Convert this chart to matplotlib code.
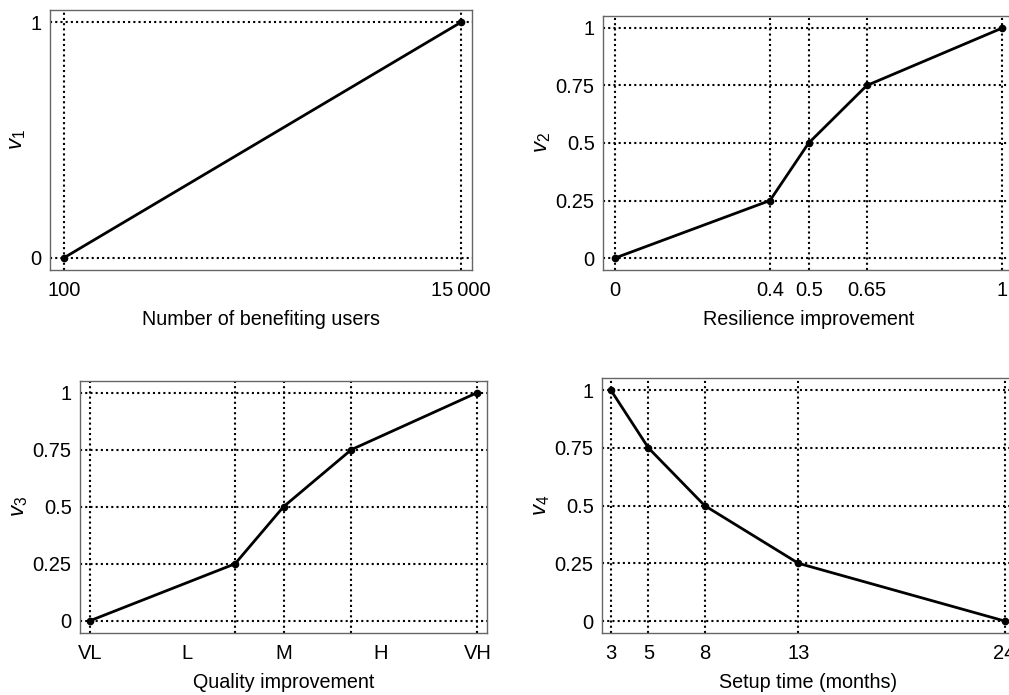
import matplotlib
matplotlib.use("Agg")
import matplotlib.pyplot as plt

plt.rcParams['font.family'] = ['Liberation Sans', 'DejaVu Sans']
plt.rcParams['mathtext.fontset'] = 'custom'
plt.rcParams['mathtext.it'] = 'Liberation Sans:italic'
plt.rcParams['mathtext.rm'] = 'Liberation Sans'

# panel 1
users = [100, 15000]
v1 = [0, 1]
# panel 2
resilience = [0, 0.4, 0.5, 0.65, 1]
v2 = [0, 0.25, 0.5, 0.75, 1]
# panel 3 (categories VL..VH at 0..4)
quality = [0, 1.5, 2, 2.7, 4]
v3 = [0, 0.25, 0.5, 0.75, 1]
quality_labels = ['VL', 'L', 'M', 'H', 'VH']
# panel 4
setup = [3, 5, 8, 13, 24]
v4 = [1, 0.75, 0.5, 0.25, 0]

value_ticks = [0, 0.25, 0.5, 0.75, 1]
value_labels = ['0', '0.25', '0.5', '0.75', '1']

fig = plt.figure(figsize=(10.09, 6.95), dpi=100)

def panel(pos, x, y, xlim, xticks, xticklabels, yticks, yticklabels, xlabel, ylabel):
    ax = fig.add_axes(pos)
    # dotted guide lines only at the data points
    for xv in x:
        ax.axvline(xv, color='black', lw=1.5, ls=(0, (1, 1.5)), zorder=1)
    for yv in y:
        ax.axhline(yv, color='black', lw=1.5, ls=(0, (1, 1.5)), zorder=1)
    ax.plot(x, y, color='black', lw=2.0, marker='o', markersize=4.5, zorder=3)
    ax.set_xlim(xlim)
    ax.set_ylim(-0.052, 1.052)
    ax.set_xticks(xticks)
    ax.set_xticklabels(xticklabels)
    ax.set_yticks(yticks)
    ax.set_yticklabels(yticklabels)
    ax.tick_params(length=0, labelsize=14.5)
    ax.tick_params(axis='x', pad=8)
    ax.tick_params(axis='y', pad=6)
    ax.set_xlabel(xlabel, fontsize=14.2, labelpad=7)
    ax.set_ylabel(ylabel, fontsize=16, labelpad=2)
    for s in ax.spines.values():
        s.set_color('#666666')
        s.set_linewidth(1.0)
    return ax

panel([0.0496, 0.6115, 0.4182, 0.3741], users, v1, (-425, 15413),
      users, ['100', '15\u2009000'], [0, 1], ['0', '1'],
      'Number of benefiting users', r'$v_1$')

panel([0.5976, 0.6115, 0.4074, 0.3655], resilience, v2, (-0.031, 1.03),
      resilience, ['0', '0.4', '0.5', '0.65', '1'], value_ticks, value_labels,
      'Resilience improvement', r'$v_2$')

panel([0.0793, 0.0896, 0.4034, 0.3626], quality, v3, (-0.10, 4.10),
      [0, 1, 2, 3, 4], quality_labels, value_ticks, value_labels,
      'Quality improvement', r'$v_3$')

panel([0.5966, 0.0892, 0.4084, 0.3665], setup, v4, (2.52, 24.5),
      setup, [str(s) for s in setup], value_ticks, value_labels,
      'Setup time (months)', r'$v_4$')

fig.savefig('out.png', dpi=100)
